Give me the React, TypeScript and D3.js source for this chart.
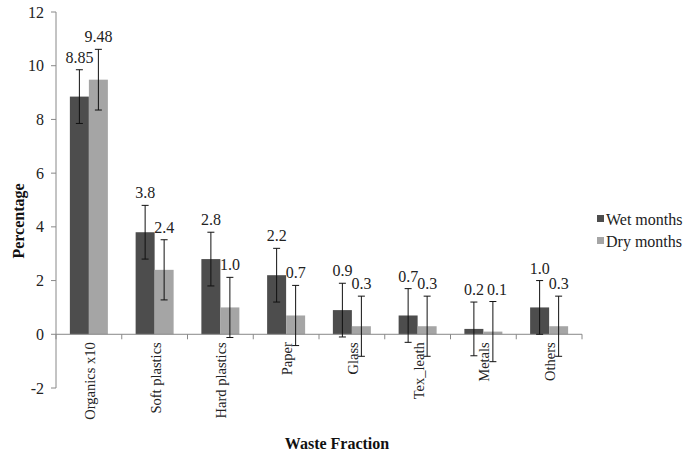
import React from "react";
import * as d3 from "d3";

const categories = ["Organics x10", "Soft plastics", "Hard plastics", "Paper", "Glass", "Tex_leath", "Metals", "Others"];
const wetValues = [8.85, 3.8, 2.8, 2.2, 0.9, 0.7, 0.2, 1.0];
const dryValues = [9.48, 2.4, 1.0, 0.7, 0.3, 0.3, 0.1, 0.3];
const wetLabels = ["8.85", "3.8", "2.8", "2.2", "0.9", "0.7", "0.2", "1.0"];
const dryLabels = ["9.48", "2.4", "1.0", "0.7", "0.3", "0.3", "0.1", "0.3"];
const wetErrors = [1.0, 1.0, 1.0, 1.0, 1.0, 1.0, 1.0, 1.0];
const dryErrors = [1.13, 1.12, 1.12, 1.12, 1.12, 1.12, 1.12, 1.12];
const yTicks = [-2, 0, 2, 4, 6, 8, 10, 12];
const seriesNames = ["Wet months", "Dry months"];

const W = 683;
const H = 455;
const FONT = "'Liberation Serif', 'Times New Roman', serif";
const WET = "#4d4d4d";
const DRY = "#a5a5a5";
const LABEL_SIZE = 16;

export default function App() {
  const left = 56;
  const right = 582;
  const y = d3.scaleLinear().domain([-2, 12]).range([388, 12]);
  const x = d3.scaleBand<string>().domain(categories).range([left, right]).paddingInner(0).paddingOuter(0);
  const bw = 19;
  const sub = d3.scaleBand<string>().domain(["wet", "dry"]).range([0, bw * 2]);
  const offset = (x.bandwidth() - bw * 2) / 2;
  const series = [
    { key: "wet", values: wetValues, labels: wetLabels, errors: wetErrors, color: WET },
    { key: "dry", values: dryValues, labels: dryLabels, errors: dryErrors, color: DRY },
  ];
  const y0 = y(0);
  const boundaries = d3.range(categories.length + 1).map((i) => left + i * x.bandwidth());

  // simple collision avoidance: when a pair of labels sit at nearly the same height, nudge the dry one right
  const dryShift = categories.map((c, i) => {
    const tw = y(wetValues[i] + wetErrors[i]);
    const td = y(dryValues[i] + dryErrors[i]);
    return Math.abs(tw - td) < 4 ? 4 : 0;
  });

  return (
    <div style={{ position: "absolute", left: 0, top: 0 }}>
      <svg width={W} height={H} style={{ display: "block", background: "#fff" }} fontFamily={FONT}>
        {/* y axis */}
        <line x1={left} x2={left} y1={y(12)} y2={y(-2)} stroke="#888" strokeWidth={1} />
        {yTicks.map((t) => (
          <g key={t}>
            <line x1={left - 5} x2={left} y1={y(t)} y2={y(t)} stroke="#888" />
            <text x={44} y={y(t)} dy="0.35em" textAnchor="end" fontSize={16} fill="#222">
              {t}
            </text>
          </g>
        ))}
        {/* bars */}
        {series.map((s) =>
          categories.map((c, i) => {
            const bx = (x(c) as number) + offset + (sub(s.key) as number);
            const v = s.values[i];
            return (
              <rect key={s.key + c} x={bx} y={Math.min(y(v), y0)} width={bw} height={Math.abs(y0 - y(v))} fill={s.color} />
            );
          })
        )}
        {/* x axis */}
        <line x1={left} x2={right} y1={y0} y2={y0} stroke="#888" />
        {boundaries.map((b, i) => (
          <line key={i} x1={b} x2={b} y1={y0} y2={y0 + 5} stroke="#888" />
        ))}
        {/* error bars and labels */}
        {series.map((s) =>
          categories.map((c, i) => {
            const cx = (x(c) as number) + offset + (sub(s.key) as number) + bw / 2;
            const v = s.values[i];
            const e = s.errors[i];
            const top = y(v + e);
            const bot = y(v - e);
            const shift = s.key === "dry" ? dryShift[i] : 0;
            return (
              <g key={"e" + s.key + c}>
                <line x1={cx} x2={cx} y1={top} y2={bot} stroke="#111" strokeWidth={1} />
                <line x1={cx - 3.5} x2={cx + 3.5} y1={top} y2={top} stroke="#111" />
                <line x1={cx - 3.5} x2={cx + 3.5} y1={bot} y2={bot} stroke="#111" />
                <text x={cx + shift} y={top - 7} textAnchor="middle" fontSize={LABEL_SIZE} fill="#222">
                  {s.labels[i]}
                </text>
              </g>
            );
          })
        )}
        {/* category labels */}
        {categories.map((c) => {
          const cx = (x(c) as number) + x.bandwidth() / 2 + 1;
          return (
            <text
              key={"l" + c}
              transform={`translate(${cx},${y0 + 8}) rotate(-90)`}
              textAnchor="end"
              dy="0.35em"
              fontSize={14.5}
              fill="#222"
            >
              {c}
            </text>
          );
        })}
        {/* axis titles */}
        <text transform={`translate(18,221) rotate(-90)`} textAnchor="middle" dy="0.35em" fontSize={16} fontWeight="bold" fill="#111">
          Percentage
        </text>
        <text x={337} y={443} textAnchor="middle" dy="0.35em" fontSize={16} fontWeight="bold" fill="#111">
          Waste Fraction
        </text>
        {/* legend */}
        {seriesNames.map((n, i) => (
          <g key={n}>
            <rect x={597} y={215 + i * 22} width={7} height={7} fill={i === 0 ? WET : DRY} />
            <text x={606} y={219 + i * 22} dy="0.35em" fontSize={16} fill="#222">
              {n}
            </text>
          </g>
        ))}
      </svg>
    </div>
  );
}
